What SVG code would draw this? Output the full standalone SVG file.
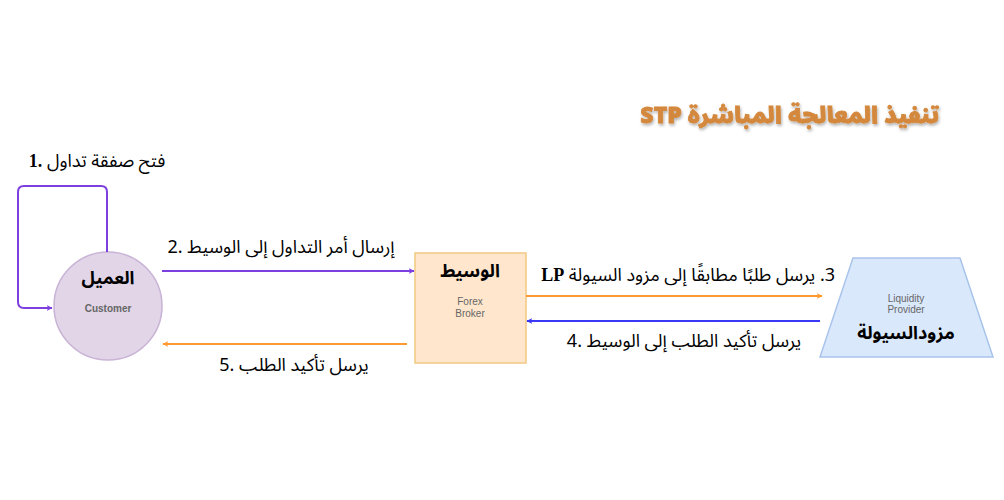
<svg xmlns="http://www.w3.org/2000/svg" width="1004" height="500" viewBox="0 0 1004 500">
<style>
.lbl{font-family:"Noto Sans Arabic","Noto Sans","DejaVu Sans",sans-serif;font-size:18px;fill:#000}
.ttl{font-family:"Noto Sans Arabic","DejaVu Sans",sans-serif;font-size:23px;font-weight:900;fill:#D4883C;stroke:#D4883C;stroke-width:0.8}
.nm{font-family:"Noto Sans Arabic","DejaVu Sans",sans-serif;font-size:18px;font-weight:bold;fill:#000}
.sub{font-family:"Liberation Sans",Arial,sans-serif;font-size:10px;fill:#666}
.ser{font-family:"Liberation Serif",serif;font-weight:bold}
.ln{fill:none;stroke-width:2}
</style>
<defs>
<marker id="ap" viewBox="0 0 10 10" refX="9" refY="5" markerWidth="6" markerHeight="6" orient="auto" markerUnits="userSpaceOnUse"><path d="M0,0 L10,5 L0,10 L3,5 z" fill="#7E3FE0"/></marker>
<marker id="ao" viewBox="0 0 10 10" refX="9" refY="5" markerWidth="6" markerHeight="6" orient="auto" markerUnits="userSpaceOnUse"><path d="M0,0 L10,5 L0,10 L3,5 z" fill="#FF9A33"/></marker>
<marker id="ab" viewBox="0 0 10 10" refX="9" refY="5" markerWidth="6" markerHeight="6" orient="auto" markerUnits="userSpaceOnUse"><path d="M0,0 L10,5 L0,10 L3,5 z" fill="#3838F5"/></marker>
<filter id="sh" x="-10%" y="-30%" width="120%" height="160%"><feDropShadow dx="1" dy="2" stdDeviation="1.5" flood-color="#000" flood-opacity="0.3"/></filter>
</defs>
<rect width="1004" height="500" fill="#fff"/>
<text class="ttl" x="790" y="123" text-anchor="middle" direction="rtl" filter="url(#sh)">تنفيذ المعالجة المباشرة STP</text>

<g id="customer">
<circle cx="108" cy="306" r="54" fill="#E1D5E7" stroke="#C9B3D6" stroke-width="1.5"/>
<text class="nm" x="108" y="284" text-anchor="middle">العميل</text>
<text class="sub" x="108" y="312" text-anchor="middle" font-weight="bold">Customer</text>
</g>
<g id="broker">
<rect x="415" y="253" width="111" height="110" fill="#FFE6CC" stroke="#F2C983" stroke-width="1.5"/>
<text class="nm" x="470" y="277" text-anchor="middle">الوسيط</text>
<text class="sub" x="470" y="305" text-anchor="middle">Forex</text>
<text class="sub" x="470" y="317" text-anchor="middle">Broker</text>
</g>
<g id="provider">
<path d="M853,258 H960 L993,357 H820 Z" fill="#DAE8FC" stroke="#A9C4EB" stroke-width="1.5"/>
<text class="sub" x="906" y="302" text-anchor="middle">Liquidity</text>
<text class="sub" x="906" y="313" text-anchor="middle">Provider</text>
<text class="nm" x="906" y="339" text-anchor="middle">مزودالسيولة</text>
</g>

<g id="connectors">
<path class="ln" stroke="#7E3FE0" d="M107,252 V192 Q107,186 101,186 H24 Q18,186 18,192 V302 Q18,308 24,308 H52" marker-end="url(#ap)"/>
<path class="ln" stroke="#7E3FE0" d="M162,271 H414" marker-end="url(#ap)"/>
<path class="ln" stroke="#FF9A33" d="M526,296 H822" marker-end="url(#ao)"/>
<path class="ln" stroke="#3838F5" d="M820,321 H527" marker-end="url(#ab)"/>
<path class="ln" stroke="#FF9A33" d="M407,344 H163" marker-end="url(#ao)"/>
</g>

<g id="labels">
<text class="lbl" x="97" y="167" text-anchor="middle" direction="ltr"><tspan class="ser">1.</tspan> فتح صفقة تداول</text>
<text class="lbl" x="281" y="253" text-anchor="middle" direction="ltr">2. إرسال أمر التداول إلى الوسيط</text>
<text class="lbl" x="835" y="281" text-anchor="start" direction="rtl">3. يرسل طلبًا مطابقًا إلى مزود السيولة <tspan class="ser">LP</tspan></text>
<text class="lbl" x="684" y="347" text-anchor="middle" direction="ltr">4. يرسل تأكيد الطلب إلى الوسيط</text>
<text class="lbl" x="294" y="371" text-anchor="middle" direction="ltr">5. يرسل تأكيد الطلب</text>
</g>
</svg>
